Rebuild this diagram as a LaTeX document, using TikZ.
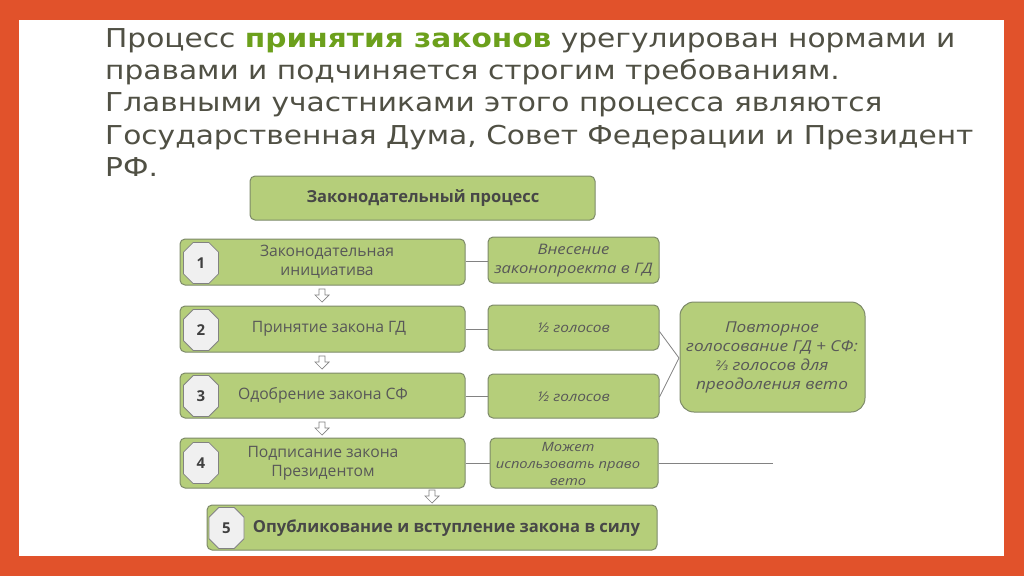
\documentclass[tikz,border=0pt]{standalone}
\usepackage{fontspec}
\setmainfont{DejaVu Sans}[FakeStretch=1.14]
\newfontfamily\djv{DejaVu Sans}
\newfontfamily\osans{Open Sans}
\newfontfamily\osit{Open Sans}[FakeStretch=1.15]
\usetikzlibrary{shapes.misc}
\definecolor{frameor}{RGB}{225,82,43}
\definecolor{headtxt}{RGB}{80,80,68}
\definecolor{hilite}{RGB}{108,160,28}
\definecolor{boxgreen}{RGB}{181,206,122}
\definecolor{boxedge}{RGB}{125,138,105}
\definecolor{boxtxt}{RGB}{88,88,88}
\definecolor{linegrey}{RGB}{130,130,130}
\tikzset{
  headline/.style={anchor=base west, inner sep=0, text=headtxt, font=\fontsize{26}{32}\selectfont},
  greenbox/.style={draw=boxedge, fill=boxgreen, line width=1pt, rounded corners=5pt, inner sep=0, minimum width=#1},
  steptxt/.style={text=boxtxt, font=\osans\fontsize{15.7}{19}\selectfont, align=center, inner sep=0},
  sidetxt/.style={text=boxtxt, font=\osit\itshape\fontsize{13.4}{18}\selectfont, align=center, inner sep=0},
  badge/.style={chamfered rectangle, chamfered rectangle xsep=7pt, chamfered rectangle ysep=7pt, draw=linegrey, fill=black!6, line width=0.8pt, minimum width=35pt, minimum height=41pt, inner sep=0, text=black!75, font=\osans\bfseries\fontsize{15}{15}\selectfont},
  conn/.style={draw=linegrey, line width=0.8pt},
  harrow/.pic={\draw[draw=linegrey, fill=white, line width=0.7pt] (-3,0) -- (3,0) -- (3,6) -- (7,6) -- (0,13) -- (-7,6) -- (-3,6) -- cycle;}
}
\begin{document}
\begin{tikzpicture}[x=1pt,y=-1pt]
\fill[frameor] (0,0) rectangle (1024,576);
\fill[white] (19,20) rectangle (1004,556);
\useasboundingbox (0,0) rectangle (1024,576);

% heading
\node[headline] (h1) at (105,47) {Процесс \textbf{\color{hilite}принятия законов} урегулирован нормами и};
\node[headline] (h2) at (105,79.3) {правами и подчиняется строгим требованиям.};
\node[headline] (h3) at (105,111.6) {Главными участниками этого процесса являются};
\node[headline] (h4) at (105,144) {Государственная Дума, Совет Федерации и Президент};
\node[headline] (h5) at (105,176.2) {РФ.};

% title
\node[greenbox=345pt, minimum height=44pt] (title) at (422.5,198) {};
\node[steptxt, font=\osans\bfseries\fontsize{16.5}{19}\selectfont, text=black!72] (titletxt) at (423,198) {Законодательный процесс};

% steps
\node[greenbox=285pt, minimum height=46pt] (s1) at (322.5,262) {};
\node[greenbox=285pt, minimum height=46pt] (s2) at (322.5,329) {};
\node[greenbox=285pt, minimum height=45pt] (s3) at (322.5,395.5) {};
\node[greenbox=285pt, minimum height=50pt] (s4) at (322.5,463) {};
\node[greenbox=450pt, minimum height=45pt] (s5) at (432,527.5) {};

\node[steptxt] (t1) at (327,262) {Законодательная\\инициатива};
\node[steptxt] (t2) at (329,329) {Принятие закона ГД};
\node[steptxt] (t3) at (323,395) {Одобрение закона СФ};
\node[steptxt] (t4) at (323,463) {Подписание закона\\Президентом};
\node[steptxt, font=\osans\bfseries\fontsize{16.6}{18}\selectfont, text=black!72] (t5) at (446.5,528) {Опубликование и вступление закона в силу};

\node[badge] (b1) at (201,263) {1};
\node[badge] (b2) at (201,330) {2};
\node[badge] (b3) at (201,396) {3};
\node[badge] (b4) at (201,463) {4};
\node[badge] (b5) at (226.5,528) {5};

% side boxes
\node[greenbox=171pt, minimum height=46pt] (r1) at (573.5,260) {};
\node[greenbox=171pt, minimum height=45pt] (r2) at (573.5,327.5) {};
\node[greenbox=171pt, minimum height=44pt] (r3) at (573.5,396) {};
\node[greenbox=168pt, minimum height=50pt] (r4) at (574,463) {};
\node[greenbox=185pt, minimum height=110pt, rounded corners=14pt] (veto) at (772.5,357) {};

\node[sidetxt, font=\osit\itshape\fontsize{14.5}{19}\selectfont] (rt1) at (573.5,261) {Внесение\\законопроекта в ГД};
\node[sidetxt] (rt2) at (573.5,328) {½ голосов};
\node[sidetxt] (rt3) at (573.5,397) {½ голосов};
\node[sidetxt, font=\osit\itshape\fontsize{12.8}{17}\selectfont] (rt4) at (568,464) {Может\\использовать право\\вето};
\node[sidetxt, font=\osit\itshape\fontsize{15}{19}\selectfont] (vt) at (772,357) {Повторное\\голосование ГД + СФ:\\{\djv\itshape\fontsize{13}{19}\selectfont ⅔} голосов для\\преодоления вето};

% connectors
\draw[conn] (s1.east |- 0,261) -- (r1.west |- 0,261);
\draw[conn] (s2.east) -- (r2.west |- s2.east);
\draw[conn] (s3.east |- 0,396) -- (r3.west |- 0,396);
\draw[conn] (s4.east) -- (r4.west |- s4.east);
\coordinate (meet) at (679,358);
\draw[conn] ([yshift=-4pt]r2.east) -- (meet) -- ([yshift=-1pt]r3.east);
\coordinate (vetoend) at (773,463);
\draw[conn] (r4.east) -- (vetoend);

% arrows
\coordinate (a1) at (322,289);
\coordinate (a2) at (322,356);
\coordinate (a3) at (322,422);
\coordinate (a4) at (432,490);
\pic at (a1) {harrow};
\pic at (a2) {harrow};
\pic at (a3) {harrow};
\pic at (a4) {harrow};
\end{tikzpicture}
\end{document}
